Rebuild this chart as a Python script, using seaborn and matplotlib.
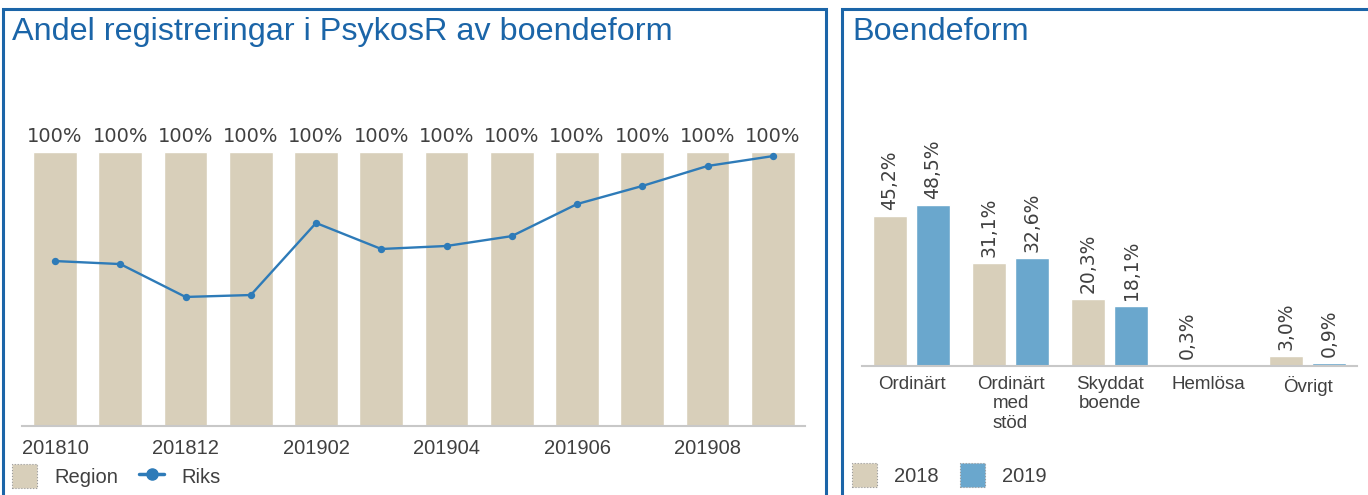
import numpy as np
import pandas as pd
import seaborn as sns
import matplotlib.pyplot as plt
from matplotlib.patches import Patch, Rectangle
from matplotlib.lines import Line2D

# left chart data
months = ['201810', '201811', '201812', '201901', '201902', '201903',
          '201904', '201905', '201906', '201907', '201908', '201909']
region = [100, 100, 100, 100, 100, 100, 100, 100, 100, 100, 100, 100]
riks = [60.2, 59.1, 47.1, 47.8, 74.1, 64.6, 65.7, 69.3, 81.0, 87.6, 94.9, 98.5]

# right chart data
boende = ['Ordinärt', 'Ordinärt\nmed\nstöd', 'Skyddat\nboende', 'Hemlösa', 'Övrigt']
years = ['2018', '2019']
share_2018 = [45.2, 31.1, 20.3, 0.3, 3.0]
share_2019 = [48.5, 32.6, 18.1, 0.0, 0.9]
labels_2018 = ['45,2%', '31,1%', '20,3%', '0,3%', '3,0%']
labels_2019 = ['48,5%', '32,6%', '18,1%', '', '0,9%']

BEIGE = '#d8cfba'
BLUE = '#6aa7cd'
LINE = '#2e7bb8'
FRAME = '#1b65a8'
TXT = '#404040'

sns.set_theme(style='white')
plt.rcParams['font.family'] = ['Liberation Sans', 'DejaVu Sans']

W, H = 1368, 495
fig = plt.figure(figsize=(W / 100, H / 100), dpi=100)

# panel frames
fig.add_artist(Rectangle((3 / W, -0.05), 823 / W, 1.05 - 9 / H, transform=fig.transFigure,
                         fill=False, edgecolor=FRAME, linewidth=2.2))
fig.add_artist(Rectangle((842 / W, -0.05), 560 / W, 1.05 - 9 / H, transform=fig.transFigure,
                         fill=False, edgecolor=FRAME, linewidth=2.2))

fig.text(12 / W, 1 - 32 / H, 'Andel registreringar i PsykosR av boendeform',
         color=FRAME, fontsize=23.3, va='center', ha='left')
fig.text(852 / W, 1 - 32 / H, 'Boendeform', color=FRAME, fontsize=23.3, va='center', ha='left')

legend_kw = dict(loc='center left', ncol=2, frameon=False, fontsize=14.5,
                 handlelength=1.25, handleheight=1.4, handletextpad=0.85,
                 columnspacing=1.05, borderpad=0, borderaxespad=0, labelcolor=TXT)

# ---- left chart
ax1 = fig.add_axes([22.4 / W, 1 - 426 / H, 783 / W, 316 / H])
df1 = pd.DataFrame({'month': months, 'region': region, 'riks': riks})
sns.barplot(data=df1, x='month', y='region', color=BEIGE, saturation=1, width=0.67, ax=ax1)
sns.pointplot(data=df1, x='month', y='riks', color=LINE, markers='o', markersize=4,
              linewidth=1.7, ax=ax1)
ax1.set_ylim(0, 100 * 316 / 274)
for i, v in enumerate(region):
    ax1.text(i, v + 2.2, f'{v}%', ha='center', va='bottom', fontsize=14,
             color=TXT, family='DejaVu Sans')
ax1.set_xticks(range(0, len(months), 2))
ax1.set_xticklabels(months[::2], fontsize=14.5, color=TXT)
ax1.tick_params(axis='x', length=0, pad=9)
ax1.set_yticks([])
ax1.set_xlabel('')
ax1.set_ylabel('')
for s in ['top', 'right', 'left']:
    ax1.spines[s].set_visible(False)
ax1.spines['bottom'].set_color('#c8c8c8')
ax1.spines['bottom'].set_linewidth(1.5)
ax1.set_xlim(-0.5, len(months) - 0.5)

h_region = Patch(facecolor=BEIGE, edgecolor='#9a9a9a', linestyle=':', linewidth=0.8)
h_riks = Line2D([], [], color=LINE, marker='o', markersize=8, linewidth=2.5)
fig.legend([h_region, h_riks], ['Region', 'Riks'],
           bbox_to_anchor=(12 / W, 1 - 476 / H), **legend_kw)

# ---- right chart
ax2 = fig.add_axes([862 / W, 1 - 366 / H, 495 / W, 266 / H])
df2 = pd.DataFrame({'boende': boende * 2,
                    'year': [years[0]] * 5 + [years[1]] * 5,
                    'share': share_2018 + share_2019})
sns.barplot(data=df2, x='boende', y='share', hue='year', palette=[BEIGE, BLUE],
            saturation=1, width=0.87, gap=0.23, ax=ax2, legend=False)
ax2.set_ylim(0, 266 / 3.32)
for cont, labs in zip(ax2.containers, [labels_2018, labels_2019]):
    ax2.bar_label(cont, labels=labs, rotation=90, padding=4, fontsize=13.5,
                  color=TXT, family='DejaVu Sans')
ax2.tick_params(axis='x', length=0, pad=7, labelsize=13.5, labelcolor=TXT)
ax2.set_yticks([])
ax2.set_xlabel('')
ax2.set_ylabel('')
for s in ['top', 'right', 'left']:
    ax2.spines[s].set_visible(False)
ax2.spines['bottom'].set_color('#c8c8c8')
ax2.spines['bottom'].set_linewidth(1.5)
ax2.set_xlim(-0.5, len(boende) - 0.5)

h18 = Patch(facecolor=BEIGE, edgecolor='#9a9a9a', linestyle=':', linewidth=0.8)
h19 = Patch(facecolor=BLUE, edgecolor='#9a9a9a', linestyle=':', linewidth=0.8)
fig.legend([h18, h19], years,
           bbox_to_anchor=(852 / W, 1 - 475 / H), **legend_kw)

fig.savefig('out.png', dpi=100)
